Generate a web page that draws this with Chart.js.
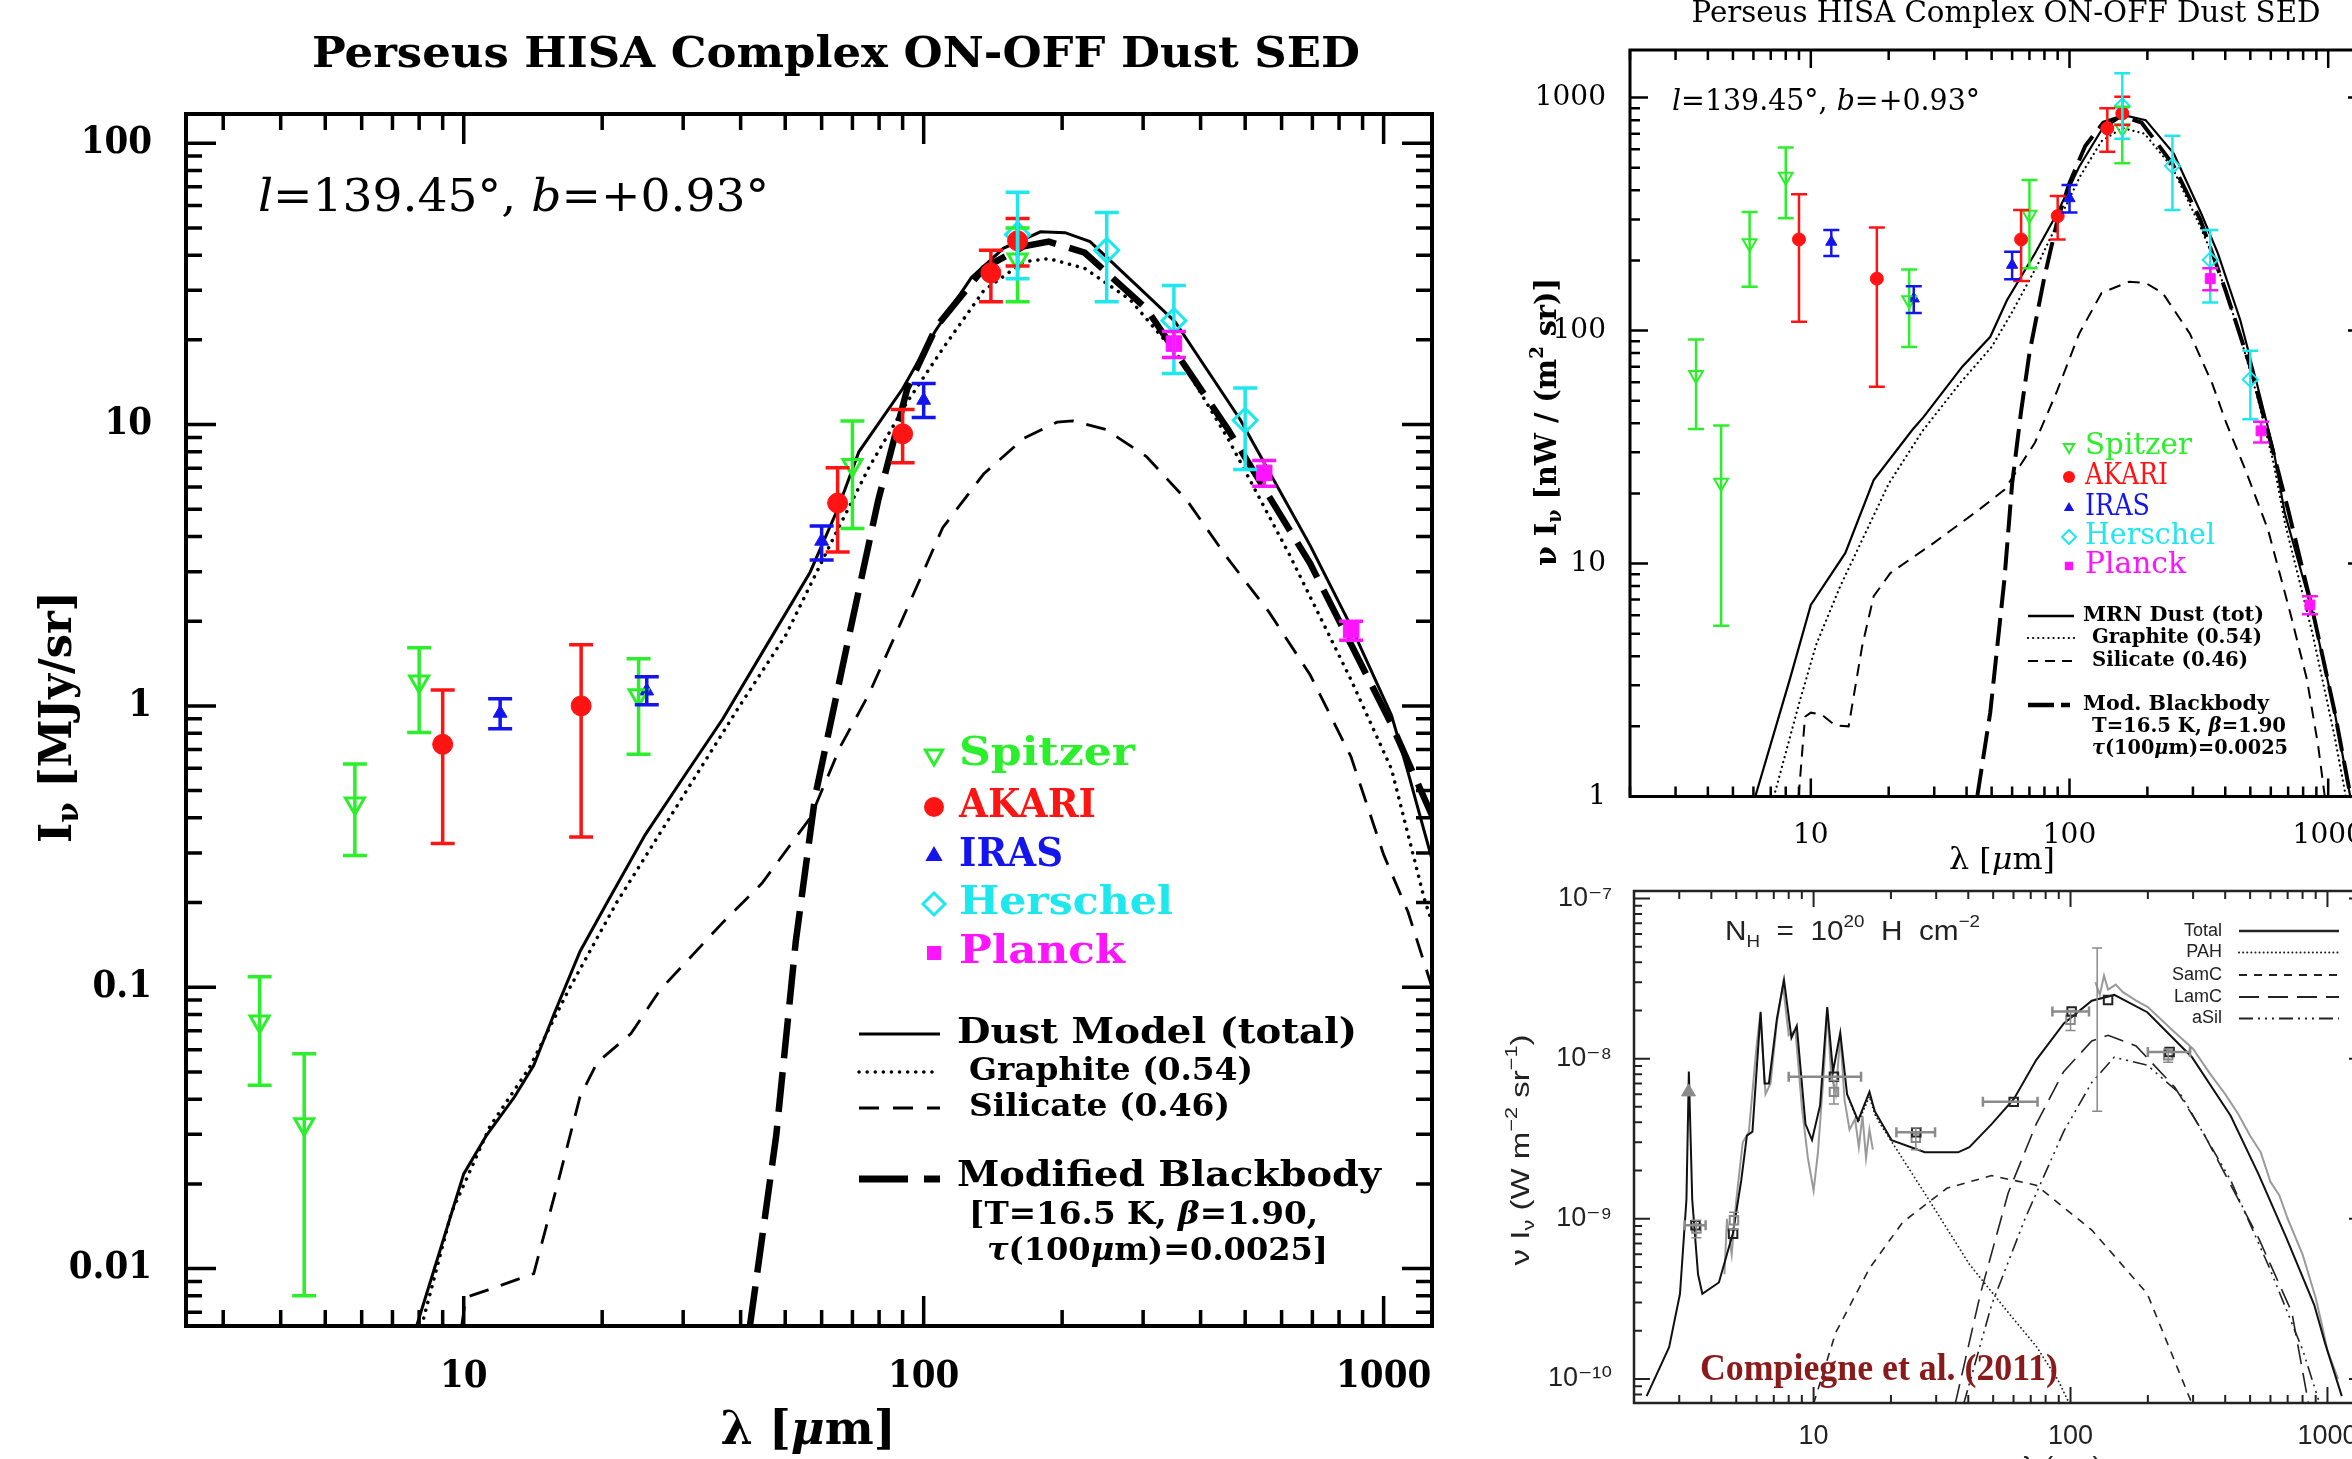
<!DOCTYPE html>
<html>
<head>
<meta charset="utf-8">
<title>Perseus HISA Complex ON-OFF Dust SED</title>
<script src="https://cdn.jsdelivr.net/npm/chart.js@4.4.1/dist/chart.umd.min.js"></script>
<style>
  html, body { margin: 0; padding: 0; background: #fff; }
  body { width: 2352px; height: 1459px; overflow: hidden; position: relative; }
  .panel { position: absolute; }
</style>
</head>
<body>
<canvas id="sedMain" class="panel" width="1480" height="1459" style="left:0;top:0"></canvas>
<canvas id="sedRight" class="panel" width="900" height="900" style="left:1480px;top:0"></canvas>
<canvas id="compiegne" class="panel" width="900" height="599" style="left:1480px;top:860px"></canvas>
<script>
// ---------- photometry: wavelengths (micron) ----------
const bands = ['Spitzer', 'AKARI', 'IRAS', 'Herschel', 'Planck'];
const spzLam = [3.6, 4.5, 5.8, 8.0, 24, 70, 160];
const akrLam = [9, 18, 65, 90, 140, 160];
const irsLam = [12, 25, 60, 100];
const hslLam = [160, 250, 350, 500];
const plkLam = [350, 550, 850];

// ---------- left panel: I_nu [MJy/sr] ----------
const spzI = [0.0755, 0.0326, 0.45, 1.22, 1.09, 7.18, 38.6];
const spzLo = [0.0448, 0.0080, 0.294, 0.805, 0.673, 4.27, 27.3];
const spzHi = [0.109, 0.058, 0.622, 1.61, 1.47, 10.3, 50];
const akrI = [0.73, 1.0, 5.26, 9.27, 34.6, 45];
const akrLo = [0.324, 0.342, 3.52, 7.31, 27.3, 36.6];
const akrHi = [1.14, 1.65, 7.02, 11.3, 41.6, 54];
const irsI = [0.942, 1.13, 3.85, 12.2];
const irsLo = [0.83, 1.01, 3.3, 10.6];
const irsHi = [1.06, 1.27, 4.36, 14.0];
const hslI = [47.3, 41.6, 23.4, 10.35];
const hslLo = [33, 27.3, 15.2, 6.92];
const hslHi = [67, 56.7, 31.2, 13.5];
const plkI = [19.4, 6.73, 1.86];
const plkLo = [17.3, 6.03, 1.71];
const plkHi = [21.4, 7.45, 2.0];

const totLam = [7.9, 10, 11.2, 12.9, 14.2, 15.7, 17.9, 20.5, 24.8, 30.1, 36.6, 44.5, 56.6, 65, 72.3, 90, 106, 127, 149, 179.5, 203, 230, 292, 352, 488, 692, 849, 1040, 1130, 1274];
const totI = [0.00625, 0.0217, 0.0297, 0.0408, 0.0528, 0.080, 0.134, 0.2, 0.348, 0.56, 0.9, 1.54, 2.98, 5.0, 8.0, 13.4, 21.5, 33.3, 42.3, 48.4, 48.1, 44.7, 31, 23.2, 10.4, 3.72, 1.92, 0.927, 0.58, 0.285];
const graLam = [8.1, 9.4, 11.4, 13.9, 16.9, 21.5, 27.4, 39.4, 50.2, 62.5, 75.9, 92, 110, 135, 165, 187, 224, 281, 360, 459, 624, 849, 1040, 1225, 1274];
const graI = [0.00625, 0.0158, 0.032, 0.0518, 0.0977, 0.2, 0.377, 0.975, 1.79, 3.72, 7.0, 12.0, 18.6, 29.9, 37.9, 38.9, 35.9, 27.8, 17.3, 8.9, 3.45, 1.24, 0.597, 0.207, 0.17];
const silLam = [9.9, 10.1, 11.3, 14.2, 16.0, 17.9, 19.5, 23.1, 26.7, 36.6, 44.5, 56.7, 66, 76, 89.5, 110, 135, 165, 195, 211, 249, 305, 374, 459, 564, 692, 849, 1000, 1130, 1274];
const silI = [0.00625, 0.0079, 0.0084, 0.0096, 0.02, 0.0408, 0.054, 0.0684, 0.0977, 0.17, 0.234, 0.4, 0.72, 1.1, 2.0, 4.3, 6.67, 8.93, 10.2, 10.3, 9.6, 7.7, 5.36, 3.33, 2.15, 1.29, 0.66, 0.296, 0.185, 0.1];
const mbbLam = [41.9, 47.8, 52.7, 58.1, 68.9, 79.6, 92.1, 106.6, 135, 165, 187, 224, 305, 459, 692, 1040, 1274];
const mbbI = [0.00625, 0.0297, 0.145, 0.478, 1.79, 5.36, 13.4, 22.3, 35.9, 43, 44.7, 40.8, 25.8, 9.6, 3.21, 0.86, 0.408];

const mainXTicks = [10, 100, 1000];
const mainXTickText = ['10', '100', '1000'];
const mainYTicks = [0.01, 0.1, 1, 10, 100];
const mainYTickText = ['0.01', '0.1', '1', '10', '100'];

// ---------- top right panel: nu I_nu [nW / (m2 sr)] ----------
const spzNuI = [64.4, 22.2, 237, 457, 135, 314, 738];
const spzNuLo = [37.8, 5.4, 154, 303, 85, 185, 522];
const spzNuHi = [91.6, 39.1, 323, 610, 183, 443, 913];
const akrNuI = [246, 167, 246, 310, 738, 855];
const akrNuLo = [109, 57.4, 163, 246, 585, 762];
const akrNuHi = [385, 277, 329, 378, 899, 1008];
const irsNuI = [240, 137, 191, 369];
const irsNuLo = [209, 119, 166, 321];
const irsNuHi = [270, 155, 218, 421];
const hslNuI = [920, 509, 201, 61.7];
const hslNuLo = [666, 329, 132, 41.6];
const hslNuHi = [1270, 685, 270, 81.8];
const plkNuI = [167, 37.1, 6.64];
const plkNuLo = [149, 33.1, 6.06];
const plkNuHi = [185, 40.6, 7.24];

const mrnLam = [6.1, 8.3, 10, 13.6, 17.5, 24.7, 27.3, 38.5, 49.4, 57.3, 73.5, 89.5, 109, 133, 162, 197, 253, 323, 375, 457, 530, 615, 679, 871, 1060, 1217];
const mrnNuI = [1, 3.19, 6.64, 11.1, 22.8, 37.5, 42.6, 70, 94, 135, 214, 318, 505, 726, 841, 800, 575, 318, 214, 111, 59.3, 30.7, 16.5, 6.15, 2.29, 1];
const graNuLam = [7.2, 9, 10.5, 13, 17, 20, 27, 38, 50, 60, 75, 90, 110, 133, 160, 195, 250, 320, 375, 450, 530, 615, 680, 870, 1060, 1170];
const graNuI = [1, 2.5, 4.5, 8, 15, 22, 37, 60, 85, 120, 190, 290, 460, 650, 740, 700, 500, 280, 185, 100, 53, 27, 15, 5, 1.8, 1];
const silNuLam = [8.97, 9.5, 10, 11, 12.4, 14, 15.8, 17.5, 20.3, 30, 44.6, 56, 73.5, 89.5, 109, 133, 170, 197, 229, 292, 356, 404, 480, 585, 713, 827, 914, 970];
const silNuI = [1, 2.2, 2.29, 2.25, 2.02, 2.0, 4.43, 7.24, 9.1, 12.3, 17, 20.7, 33, 55, 97, 145, 162, 160, 145, 97, 59.3, 40, 25, 14, 6.15, 3.19, 1.66, 1];
const mbbNuLam = [44, 49.4, 56, 60, 65, 70, 80, 90, 100, 115, 135, 160, 190, 250, 320, 400, 500, 600, 700, 870, 1060, 1220];
const mbbNuI = [1, 2.3, 8.5, 22, 45, 80, 170, 300, 430, 620, 780, 830, 780, 520, 300, 150, 70, 33, 17, 6.3, 2.3, 1];

const rightXTicks = [10, 100, 1000];
const rightXTickText = ['10', '100', '1000'];
const rightYTicks = [1, 10, 100, 1000];
const rightYTickText = ['1', '10', '100', '1000'];

// ---------- bottom right panel (Compiegne et al. 2011): nu I_nu [W m-2 sr-1] ----------
const cTotLam = [2.24, 2.74, 3.02, 3.2, 3.27, 3.37, 3.55, 3.69, 4.28, 4.85, 5.23, 5.5, 5.78, 6.22, 6.45, 6.7, 7.2, 7.67, 8.2, 8.6, 9.3, 9.86, 10.6, 11.3, 11.9, 12.7, 13.5, 14.9, 16.5, 17.3, 20.1, 27.1, 36.5, 40.4, 49.3, 60.2, 73.5, 94.2, 121, 148, 199, 297, 420, 539, 692, 888, 980, 1137];
const cTotVal = [7.8e-11, 1.58e-10, 3.4e-10, 1.32e-9, 8.3e-9, 1.32e-9, 4.5e-10, 3.4e-10, 4.0e-10, 8.1e-10, 1.74e-9, 3.3e-9, 3.5e-9, 1.96e-8, 7e-9, 7e-9, 1.78e-8, 3.1e-8, 1.35e-8, 1.6e-8, 3.9e-9, 3.1e-9, 5.1e-9, 2.1e-8, 8.3e-9, 1.45e-8, 6e-9, 4.1e-9, 6.2e-9, 4.7e-9, 3.1e-9, 2.6e-9, 2.6e-9, 2.8e-9, 3.9e-9, 5.6e-9, 9.8e-9, 1.66e-8, 2.3e-8, 2.5e-8, 1.95e-8, 1.02e-8, 4.4e-9, 1.9e-9, 7.6e-10, 2.9e-10, 1.66e-10, 7.8e-11];
const cPahLam = [13.5, 14.9, 16.5, 17.3, 18.2, 27.1, 40.4, 57.2, 73.5, 89.5, 99];
const cPahVal = [6e-9, 4.0e-9, 5.8e-9, 4.5e-9, 3.9e-9, 1.44e-9, 5.2e-10, 2.6e-10, 1.6e-10, 9.8e-11, 7e-11];
const cSamLam = [10, 12.2, 16.5, 22.2, 33, 49.3, 73.5, 121, 199, 297];
const cSamVal = [7e-11, 1.95e-10, 4.9e-10, 9.5e-10, 1.55e-9, 1.86e-9, 1.62e-9, 8.5e-10, 3.4e-10, 7e-11];
const cLamLam = [35.6, 44.6, 57.2, 73.5, 94, 121, 140, 180, 255, 327, 539, 727, 844];
const cLamVal = [7e-11, 3.4e-10, 1.45e-9, 3.9e-9, 8.3e-9, 1.29e-8, 1.4e-8, 1.2e-8, 6.6e-9, 3.5e-9, 7.6e-10, 2.6e-10, 7e-11];
const cSilLam = [38.4, 49.3, 66.5, 94, 121, 148, 199, 268, 420, 596, 803, 933];
const cSilVal = [7e-11, 2.9e-10, 1.0e-9, 3.5e-9, 7.1e-9, 1.02e-8, 9.1e-9, 6.0e-9, 1.74e-9, 4.9e-10, 1.5e-10, 7e-11];
const isoLam = [4.5, 4.6, 4.8, 5.0, 5.3, 5.6, 6.0, 6.2, 6.5, 6.8, 7.2, 7.6, 8.0, 8.5, 9.0, 9.5, 10.0, 10.4, 11.0, 11.3, 11.7, 12.2, 12.7, 13.2, 13.8, 14.5, 15, 15.5, 16, 16.5, 17];
const isoVal = [4.5e-10, 1.0e-9, 6e-10, 1.3e-9, 3.0e-9, 3.5e-9, 1.2e-8, 1.9e-8, 6e-9, 7e-9, 1.7e-8, 2.9e-8, 1.4e-8, 1.5e-8, 5e-9, 2.4e-9, 1.5e-9, 2.6e-9, 9e-9, 2.0e-8, 8e-9, 6e-9, 1.4e-8, 5.5e-9, 3.6e-9, 4.2e-9, 2.8e-9, 4.4e-9, 2.4e-9, 3.6e-9, 2.7e-9];
const firLam = [125, 130, 135, 140, 150, 160, 180, 200, 250, 300, 350, 400, 450, 500, 550, 600, 650, 700, 800, 900, 950, 1000, 1100];
const firVal = [3.0e-8, 2.5e-8, 3.3e-8, 2.7e-8, 2.9e-8, 2.6e-8, 2.3e-8, 2.1e-8, 1.5e-8, 1.15e-8, 8e-9, 6e-9, 4.5e-9, 3.3e-9, 2.6e-9, 1.7e-9, 1.4e-9, 1.0e-9, 6e-10, 3.2e-10, 2.2e-10, 1.5e-10, 1.0e-10];
const cBoxLam = [3.47, 4.86, 12, 25.1, 60.1, 101, 140, 243];
const cBoxVal = [9.1e-10, 8.05e-10, 7.7e-9, 3.47e-9, 5.37e-9, 1.97e-8, 2.32e-8, 1.1e-8];
const cBoxLamLo = [3.15, 4.86, 8.0, 21, 45.6, 85, 140, 200];
const cBoxLamHi = [3.8, 4.86, 15.3, 29.7, 74.4, 118, 140, 292];
const cGreyLam = [3.5, 4.9, 12, 25, 100, 240, 127];
const cGreyVal = [8.7e-10, 9.8e-10, 6.2e-9, 3.2e-9, 1.75e-8, 1.05e-8, 2.2e-8];
const cGreyLo = [7.6e-10, 8.6e-10, 5.2e-9, 2.7e-9, 1.5e-8, 9.5e-9, 4.7e-9];
const cGreyHi = [9.8e-10, 1.1e-9, 7.3e-9, 3.7e-9, 2.0e-8, 1.15e-8, 4.9e-8];
const cTriLam = [3.26];
const cTriVal = [6.2e-9];

const cXTicks = [10, 100, 1000];
const cXTickText = ['10', '100', '1000'];
const cYTicks = [1e-10, 1e-9, 1e-8, 1e-7];
const cYTickText = ['10\u207B\u00B9\u2070', '10\u207B\u2079', '10\u207B\u2078', '10\u207B\u2077'];

// ---------- look ----------
const GREEN = '#2bef2b', RED = '#ff1414', BLUE = '#1414ee', CYAN = '#1ee8ee', MAGENTA = '#ff14ff';
const CLEAR = 'rgba(0,0,0,0)';
const SERIF = '"DejaVu Serif", serif';
const CSERIF = '"DejaVu Serif Condensed", "DejaVu Serif", serif';
const TIMES = '"Liberation Serif", serif';
const SANS = '"Liberation Sans", "DejaVu Sans", sans-serif';

function pts(xs, ys) {
  return xs.map((x, i) => ({x: x, y: ys[i]}));
}

function logAxis(min, max, tickVals, tickText, font, color, pad, size) {
  return {
    type: 'logarithmic', min: min, max: max,
    grid: {display: false}, border: {display: false},
    ticks: {
      autoSkip: false, maxRotation: 0, minRotation: 0, padding: pad, color: color, font: font,
      callback: function (v) {
        const i = tickVals.findIndex(t => Math.abs(v - t) / t < 1e-6);
        return i >= 0 ? tickText[i] : '';
      }
    },
    afterFit: function (s) { if (s.isHorizontal()) s.height = size; else s.width = size; }
  };
}

function pointSet(label, xs, ys, lo, hi, style) {
  return Object.assign({label: label, data: pts(xs, ys), errLo: lo, errHi: hi, showLine: false}, style);
}

function curveSet(label, xs, ys, style) {
  return Object.assign({label: label, data: pts(xs, ys), showLine: true, pointRadius: 0,
    pointHoverRadius: 0, fill: false, tension: 0, borderColor: '#000'}, style);
}

function markStyle(kind, color, r, bw) {
  const s = {pointRadius: r, pointBorderWidth: bw, pointBorderColor: color, pointBackgroundColor: color, borderColor: color};
  if (kind === 'down') { s.pointStyle = 'triangle'; s.pointRotation = 180; s.pointBackgroundColor = CLEAR; }
  if (kind === 'up') s.pointStyle = 'triangle';
  if (kind === 'circle') s.pointStyle = 'circle';
  if (kind === 'diamond') { s.pointStyle = 'rectRot'; s.pointBackgroundColor = CLEAR; }
  if (kind === 'square') s.pointStyle = 'rect';
  if (kind === 'box') { s.pointStyle = 'rect'; s.pointBackgroundColor = CLEAR; }
  return s;
}

// box with inward ticks on all four sides, like the IDL frames
const idlBox = {
  id: 'idlBox',
  afterDraw(chart, args, o) {
    const ctx = chart.ctx, a = chart.chartArea;
    ctx.save();
    ctx.strokeStyle = o.color;
    ctx.lineWidth = o.tickWidth;
    ['x', 'y'].forEach(k => {
      const s = chart.scales[k];
      s.ticks.forEach(t => {
        const e = Math.floor(Math.log10(t.value) + 1e-9);
        const m = t.value / Math.pow(10, e);
        if (Math.abs(m - Math.round(m)) > 1e-6) return;
        const len = Math.round(m) === 1 ? o.major : o.minor;
        const p = s.getPixelForValue(t.value);
        ctx.beginPath();
        if (k === 'x') {
          if (p < a.left - 1 || p > a.right + 1) return;
          ctx.moveTo(p, a.bottom); ctx.lineTo(p, a.bottom - len);
          ctx.moveTo(p, a.top); ctx.lineTo(p, a.top + len);
        } else {
          if (p < a.top - 1 || p > a.bottom + 1) return;
          ctx.moveTo(a.left, p); ctx.lineTo(a.left + len, p);
          ctx.moveTo(a.right, p); ctx.lineTo(a.right - len, p);
        }
        ctx.stroke();
      });
    });
    ctx.lineWidth = o.frameWidth;
    ctx.strokeRect(a.left, a.top, a.right - a.left, a.bottom - a.top);
    ctx.restore();
  }
};

const errBars = {
  id: 'errBars',
  afterDatasetsDraw(chart, args, o) {
    const ctx = chart.ctx, a = chart.chartArea, xs = chart.scales.x, ys = chart.scales.y;
    ctx.save();
    ctx.beginPath();
    ctx.rect(a.left, a.top, a.right - a.left, a.bottom - a.top);
    ctx.clip();
    chart.data.datasets.forEach(ds => {
      if (!ds.errLo && !ds.xLo) return;
      ctx.strokeStyle = ds.errColor || ds.borderColor;
      ctx.lineWidth = ds.errWidth || o.width;
      const cap = ds.errCap !== undefined ? ds.errCap : o.cap;
      ds.data.forEach((p, i) => {
        const px = xs.getPixelForValue(p.x), py = ys.getPixelForValue(p.y);
        ctx.beginPath();
        if (ds.errLo) {
          const y1 = ys.getPixelForValue(ds.errLo[i]), y2 = ys.getPixelForValue(ds.errHi[i]);
          ctx.moveTo(px, y1); ctx.lineTo(px, y2);
          if (cap > 0) {
            ctx.moveTo(px - cap, y1); ctx.lineTo(px + cap, y1);
            ctx.moveTo(px - cap, y2); ctx.lineTo(px + cap, y2);
          }
        }
        if (ds.xLo && ds.xLo[i] !== ds.xHi[i]) {
          const x1 = xs.getPixelForValue(ds.xLo[i]), x2 = xs.getPixelForValue(ds.xHi[i]);
          ctx.moveTo(x1, py); ctx.lineTo(x2, py);
          ctx.moveTo(x1, py - 5); ctx.lineTo(x1, py + 5);
          ctx.moveTo(x2, py - 5); ctx.lineTo(x2, py + 5);
        }
        ctx.stroke();
      });
    });
    ctx.restore();
  }
};

// text helpers: parts = [text, font, dy]; optional horizontal fit to a width
function drawParts(ctx, parts, x, y, align, targetW) {
  let w = 0;
  parts.forEach(p => { ctx.font = p[1]; w += ctx.measureText(p[0]).width; });
  const k = targetW ? targetW / w : 1;
  ctx.save();
  ctx.translate(x, y);
  ctx.scale(k, 1);
  ctx.textAlign = 'left';
  let cx = align === 'center' ? -w / 2 : (align === 'right' ? -w : 0);
  parts.forEach(p => {
    ctx.font = p[1];
    ctx.fillText(p[0], cx, p[2] || 0);
    cx += ctx.measureText(p[0]).width;
  });
  ctx.restore();
}

function drawUp(ctx, parts, x, y, targetW) {
  ctx.save();
  ctx.translate(x, y);
  ctx.rotate(-Math.PI / 2);
  drawParts(ctx, parts, 0, 0, 'center', targetW);
  ctx.restore();
}

function marker(ctx, kind, x, y, r, color, lw) {
  ctx.save();
  ctx.strokeStyle = color; ctx.fillStyle = color; ctx.lineWidth = lw;
  ctx.beginPath();
  if (kind === 'down') {
    ctx.moveTo(x - r * 0.866, y - r * 0.5); ctx.lineTo(x + r * 0.866, y - r * 0.5); ctx.lineTo(x, y + r);
    ctx.closePath(); ctx.stroke();
  } else if (kind === 'up') {
    ctx.moveTo(x, y - r); ctx.lineTo(x + r * 0.866, y + r * 0.5); ctx.lineTo(x - r * 0.866, y + r * 0.5);
    ctx.closePath(); ctx.fill();
  } else if (kind === 'circle') {
    ctx.arc(x, y, r, 0, 2 * Math.PI); ctx.fill();
  } else if (kind === 'diamond') {
    ctx.moveTo(x, y - r); ctx.lineTo(x + r, y); ctx.lineTo(x, y + r); ctx.lineTo(x - r, y);
    ctx.closePath(); ctx.stroke();
  } else {
    ctx.rect(x - r * 0.7, y - r * 0.7, r * 1.4, r * 1.4); ctx.fill();
  }
  ctx.restore();
}

function legLine(ctx, x1, x2, y, dash, lw, color, cap) {
  ctx.save();
  ctx.strokeStyle = color || '#000';
  ctx.lineWidth = lw;
  ctx.lineCap = cap || 'butt';
  ctx.setLineDash(dash);
  ctx.beginPath(); ctx.moveTo(x1, y); ctx.lineTo(x2, y); ctx.stroke();
  ctx.restore();
}

const bandKinds = ['down', 'circle', 'up', 'diamond', 'square'];
const bandColors = [GREEN, RED, BLUE, CYAN, MAGENTA];

function baseOptions(pad, xAxis, yAxis, box, err) {
  return {
    responsive: false, animation: false, devicePixelRatio: 1, events: [],
    layout: {padding: pad},
    scales: {x: xAxis, y: yAxis},
    plugins: {legend: {display: false}, tooltip: {enabled: false}, idlBox: box, errBars: err}
  };
}

// ================= left panel =================
const mainFont = {family: CSERIF, size: 38, weight: 'bold'};
new Chart(document.getElementById('sedMain'), {
  type: 'scatter',
  data: {datasets: [
    pointSet('Spitzer', spzLam, spzI, spzLo, spzHi, markStyle('down', GREEN, 11, 3)),
    pointSet('AKARI', akrLam, akrI, akrLo, akrHi, markStyle('circle', RED, 10, 1)),
    pointSet('IRAS', irsLam, irsI, irsLo, irsHi, markStyle('up', BLUE, 8, 1)),
    pointSet('Herschel', hslLam, hslI, hslLo, hslHi, markStyle('diamond', CYAN, 12, 3)),
    pointSet('Planck', plkLam, plkI, plkLo, plkHi, markStyle('square', MAGENTA, 11, 1)),
    curveSet('Dust Model (total)', totLam, totI, {borderWidth: 3}),
    curveSet('Graphite (0.54)', graLam, graI, {borderWidth: 3.5, borderDash: [0.1, 8], borderCapStyle: 'round'}),
    curveSet('Silicate (0.46)', silLam, silI, {borderWidth: 2.8, borderDash: [20, 13]}),
    curveSet('Modified Blackbody', mbbLam, mbbI, {borderWidth: 6.5, borderDash: [40, 14]})
  ]},
  options: baseOptions({left: 0, top: 114, right: 48, bottom: 0},
    logAxis(2.49, 1274, mainXTicks, mainXTickText, mainFont, '#000', 20, 133),
    logAxis(0.00625, 127, mainYTicks, mainYTickText, mainFont, '#000', 26, 186),
    {color: '#000', tickWidth: 3.5, frameWidth: 4, major: 30, minor: 16},
    {width: 3.5, cap: 12}),
  plugins: [idlBox, errBars, {
    id: 'mainNotes',
    afterDraw(chart) {
      const ctx = chart.ctx;
      ctx.save();
      ctx.textBaseline = 'middle';
      ctx.fillStyle = '#000';
      drawParts(ctx, [['Perseus HISA Complex ON-OFF Dust SED', 'bold 42px ' + SERIF]], 836, 56, 'center', 1048);
      drawParts(ctx, [['l', 'italic 44px ' + SERIF], ['=139.45\u00B0, ', '44px ' + SERIF],
        ['b', 'italic 44px ' + SERIF], ['=+0.93\u00B0', '44px ' + SERIF]], 258, 200, 'left', 511);
      // symbol legend
      const legY = [753, 805, 854, 902, 951];
      const legW = [176, 137, 104, 214, 166];
      const legR = [10, 10, 10, 11, 10];
      bands.forEach((b, i) => {
        marker(ctx, bandKinds[i], 934, legY[i] + 2, legR[i], bandColors[i], 3);
        ctx.fillStyle = bandColors[i];
        drawParts(ctx, [[b, 'bold 40px ' + SERIF]], 959, legY[i] + 2, 'left', legW[i]);
      });
      // line legend
      ctx.fillStyle = '#000';
      legLine(ctx, 859, 940, 1034, [], 3);
      legLine(ctx, 859, 940, 1072, [0.1, 8], 3.5, '#000', 'round');
      legLine(ctx, 859, 940, 1108, [20, 14], 3);
      legLine(ctx, 859, 940, 1179, [49, 16, 16, 300], 7);
      drawParts(ctx, [['Dust Model (total)', 'bold 36px ' + SERIF]], 957, 1034, 'left', 400);
      drawParts(ctx, [['Graphite (0.54)', 'bold 31px ' + SERIF]], 969, 1072, 'left', 284);
      drawParts(ctx, [['Silicate (0.46)', 'bold 31px ' + SERIF]], 969, 1108, 'left', 261);
      drawParts(ctx, [['Modified Blackbody', 'bold 36px ' + SERIF]], 957, 1177, 'left', 424);
      drawParts(ctx, [['[T=16.5 K, ', 'bold 31px ' + SERIF], ['\u03B2', 'italic bold 31px ' + SERIF],
        ['=1.90,', 'bold 31px ' + SERIF]], 969, 1216, 'left', 349);
      drawParts(ctx, [['\u03C4', 'italic bold 31px ' + SERIF], ['(100', 'bold 31px ' + SERIF],
        ['\u03BC', 'italic bold 31px ' + SERIF], ['m)=0.0025]', 'bold 31px ' + SERIF]], 987, 1252, 'left', 341);
      // axis titles
      drawUp(ctx, [['I', 'bold 44px ' + CSERIF], ['\u03BD', 'bold 30px ' + CSERIF, 10],
        [' [MJy/sr]', 'bold 44px ' + CSERIF]], 60, 717, 252);
      drawParts(ctx, [['\u03BB [', 'bold 46px ' + CSERIF], ['\u03BC', 'italic bold 46px ' + CSERIF],
        ['m]', 'bold 46px ' + CSERIF]], 808, 1432, 'center', 175);
      ctx.restore();
    }
  }]
});

// ================= top right panel =================
const rightFont = {family: SERIF, size: 28};
new Chart(document.getElementById('sedRight'), {
  type: 'scatter',
  data: {datasets: [
    pointSet('Spitzer', spzLam, spzNuI, spzNuLo, spzNuHi, markStyle('down', GREEN, 8, 2)),
    pointSet('AKARI', akrLam, akrNuI, akrNuLo, akrNuHi, markStyle('circle', RED, 6.5, 1)),
    pointSet('IRAS', irsLam, irsNuI, irsNuLo, irsNuHi, markStyle('up', BLUE, 6.5, 1)),
    pointSet('Herschel', hslLam, hslNuI, hslNuLo, hslNuHi, markStyle('diamond', CYAN, 7.5, 2)),
    pointSet('Planck', plkLam, plkNuI, plkNuLo, plkNuHi, markStyle('square', MAGENTA, 7, 1)),
    curveSet('MRN Dust (tot)', mrnLam, mrnNuI, {borderWidth: 2.2}),
    curveSet('Graphite (0.54)', graNuLam, graNuI, {borderWidth: 2.2, borderDash: [0.1, 5], borderCapStyle: 'round'}),
    curveSet('Silicate (0.46)', silNuLam, silNuI, {borderWidth: 2, borderDash: [12, 8]}),
    curveSet('Mod. Blackbody', mbbNuLam, mbbNuI, {borderWidth: 4, borderDash: [28, 10]})
  ]},
  options: baseOptions({left: 0, top: 50, right: 12, bottom: 0},
    logAxis(2, 1400, rightXTicks, rightXTickText, rightFont, '#000', 14, 103.5),
    logAxis(1, 1600, rightYTicks, rightYTickText, rightFont, '#000', 16, 150),
    {color: '#000', tickWidth: 2.5, frameWidth: 3, major: 18, minor: 10},
    {width: 2.5, cap: 8}),
  plugins: [idlBox, errBars, {
    id: 'rightNotes',
    afterDraw(chart) {
      const ctx = chart.ctx;
      ctx.save();
      ctx.textBaseline = 'middle';
      ctx.fillStyle = '#000';
      drawParts(ctx, [['Perseus HISA Complex ON-OFF Dust SED', '29px ' + SERIF]], 526, 14, 'center', 629);
      drawParts(ctx, [['l', 'italic 30px ' + SERIF], ['=139.45\u00B0, ', '30px ' + SERIF],
        ['b', 'italic 30px ' + SERIF], ['=+0.93\u00B0', '30px ' + SERIF]], 192, 102, 'left', 308);
      const legY = [445, 475, 506, 535, 564];
      const legW = [107, 83, 65, 130, 101];
      const legR = [6, 6, 6, 7, 6];
      bands.forEach((b, i) => {
        marker(ctx, bandKinds[i], 589, legY[i] + 2, legR[i], bandColors[i], 2);
        ctx.fillStyle = bandColors[i];
        drawParts(ctx, [[b, '29px ' + SERIF]], 605, legY[i] + 1, 'left', legW[i]);
      });
      ctx.fillStyle = '#000';
      legLine(ctx, 548, 594, 616, [], 2.5);
      legLine(ctx, 548, 594, 638, [0.1, 5], 2.2, '#000', 'round');
      legLine(ctx, 548, 594, 661, [10, 7], 2.2);
      legLine(ctx, 548, 594, 705, [26, 7, 9, 100], 4.5);
      drawParts(ctx, [['MRN Dust (tot)', 'bold 21px ' + SERIF]], 603, 616, 'left', 181);
      drawParts(ctx, [['Graphite (0.54)', 'bold 21px ' + SERIF]], 612, 638, 'left', 170);
      drawParts(ctx, [['Silicate (0.46)', 'bold 21px ' + SERIF]], 612, 661, 'left', 156);
      drawParts(ctx, [['Mod. Blackbody', 'bold 21px ' + SERIF]], 603, 705, 'left', 186);
      drawParts(ctx, [['T=16.5 K, ', 'bold 21px ' + SERIF], ['\u03B2', 'italic bold 21px ' + SERIF], ['=1.90', 'bold 21px ' + SERIF]],
        612, 727, 'left', 194);
      drawParts(ctx, [['\u03C4', 'italic bold 21px ' + SERIF], ['(100', 'bold 21px ' + SERIF], ['\u03BC', 'italic bold 21px ' + SERIF],
        ['m)=0.0025', 'bold 21px ' + SERIF]], 612, 749, 'left', 196);
      drawUp(ctx, [['\u03BD I', 'bold 30px ' + CSERIF], ['\u03BD', 'bold 20px ' + CSERIF, 8],
        [' [nW / (m', 'bold 30px ' + CSERIF], ['2', 'bold 19px ' + CSERIF, -10], [' sr)]', 'bold 30px ' + CSERIF]], 68, 422, 288);
      drawParts(ctx, [['\u03BB [', '30px ' + SERIF], ['\u03BC', 'italic 30px ' + SERIF], ['m]', '30px ' + SERIF]],
        522, 861, 'center', 106);
      ctx.restore();
    }
  }]
});

// ================= bottom right panel =================
const cFont = {family: SANS, size: 27};
const GREYLINE = '#9a9a9a', INK = '#222';
new Chart(document.getElementById('compiegne'), {
  type: 'scatter',
  data: {datasets: [
    pointSet('data', cBoxLam, cBoxVal, null, null, Object.assign(markStyle('box', INK, 6, 2),
      {xLo: cBoxLamLo, xHi: cBoxLamHi, errColor: '#8a8a8a', errWidth: 2.5})),
    pointSet('data (grey)', cGreyLam, cGreyVal, cGreyLo, cGreyHi, Object.assign(markStyle('box', '#8a8a8a', 6, 2),
      {pointRadius: [6, 6, 6, 6, 6, 6, 0], errCap: 5, errWidth: 1.5})),
    pointSet('3.3', cTriLam, cTriVal, null, null, markStyle('up', '#8a8a8a', 8, 1)),
    curveSet('Total', cTotLam, cTotVal, {borderWidth: 2, borderColor: '#111'}),
    curveSet('PAH', cPahLam, cPahVal, {borderWidth: 1.8, borderColor: INK, borderDash: [0.1, 4], borderCapStyle: 'round'}),
    curveSet('SamC', cSamLam, cSamVal, {borderWidth: 1.6, borderColor: INK, borderDash: [8, 7]}),
    curveSet('LamC', cLamLam, cLamVal, {borderWidth: 1.6, borderColor: INK, borderDash: [20, 9]}),
    curveSet('aSil', cSilLam, cSilVal, {borderWidth: 1.6, borderColor: INK, borderDash: [14, 5, 2, 5, 2, 5, 2, 5]}),
    curveSet('ISO spectrum', isoLam, isoVal, {borderWidth: 2, borderColor: GREYLINE}),
    curveSet('FIR spectrum', firLam, firVal, {borderWidth: 2, borderColor: GREYLINE})
  ]},
  options: baseOptions({left: 0, top: 31, right: 15, bottom: 0},
    logAxis(2, 1400, cXTicks, cXTickText, cFont, INK, 9, 56),
    logAxis(7.07e-11, 1.114e-7, cYTicks, cYTickText, cFont, INK, 14, 154),
    {color: INK, tickWidth: 2, frameWidth: 2.5, major: 16, minor: 8},
    {width: 1.5, cap: 0}),
  plugins: [idlBox, errBars, {
    id: 'compNotes',
    afterDraw(chart) {
      const ctx = chart.ctx;
      ctx.save();
      ctx.textBaseline = 'middle';
      ctx.fillStyle = INK;
      drawParts(ctx, [['N', '27px ' + SANS], ['H', '17px ' + SANS, 9], ['  =  10', '27px ' + SANS],
        ['20', '17px ' + SANS, -11], ['  H  cm', '27px ' + SANS], ['\u22122', '17px ' + SANS, -11]], 245, 73, 'left', 255);
      const names = ['Total', 'PAH', 'SamC', 'LamC', 'aSil'];
      const rowY = [71, 92.5, 115, 137, 158.5];
      const dashes = [[], [0.1, 4], [8, 7], [20, 9], [14, 5, 2, 5, 2, 5, 2, 5]];
      names.forEach((n, i) => {
        drawParts(ctx, [[n, '18px ' + SANS]], 742, rowY[i], 'right');
        legLine(ctx, 759, 859, rowY[i], dashes[i], i === 0 ? 2.5 : 2, INK, i === 1 ? 'round' : 'butt');
      });
      drawUp(ctx, [['\u03BD I', '26px ' + SANS], ['\u03BD', '17px ' + SANS, 7], [' (W m', '26px ' + SANS],
        ['\u22122', '17px ' + SANS, -10], [' sr', '26px ' + SANS], ['\u22121', '17px ' + SANS, -10], [')', '26px ' + SANS]],
        42, 290, 231);
      ctx.textBaseline = 'top';
      drawParts(ctx, [['\u03BB (\u03BCm)', '28px ' + SANS]], 582, 594, 'center');
      ctx.textBaseline = 'middle';
      ctx.fillStyle = '#8b1a1a';
      drawParts(ctx, [['Compiegne et al. (2011)', 'bold 37px ' + TIMES]], 220, 510, 'left', 358);
      ctx.restore();
    }
  }]
});
</script>
</body>
</html>
